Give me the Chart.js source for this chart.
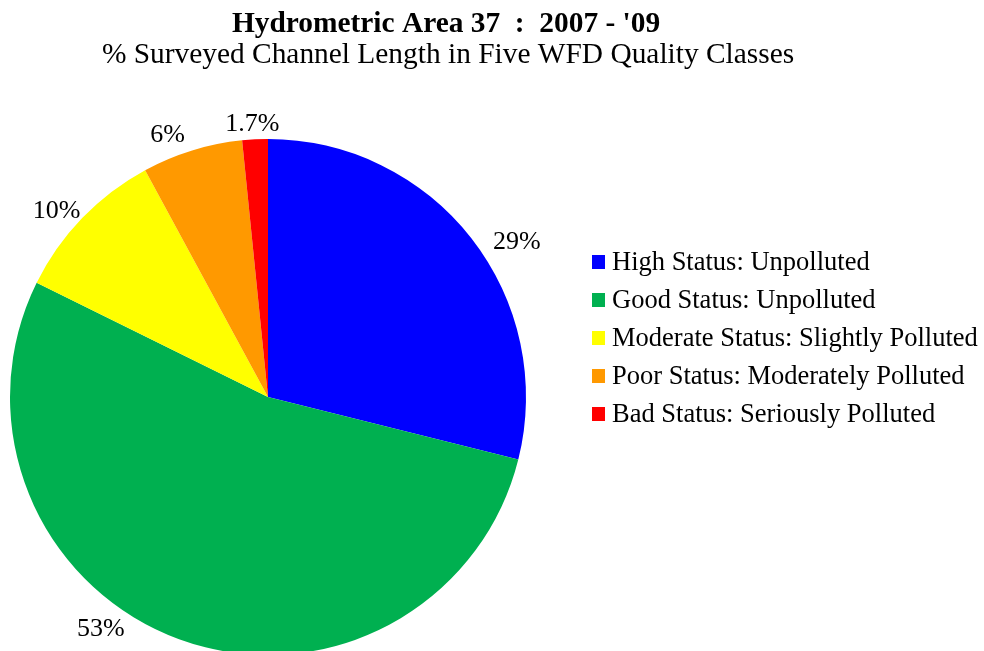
<!DOCTYPE html>
<html>
<head>
<meta charset="utf-8">
<script src="https://cdn.jsdelivr.net/npm/chart.js@4/dist/chart.umd.min.js"></script>
<style>
  html, body { margin: 0; padding: 0; background: #fff; }
  #wrap { width: 984px; height: 651px; position: relative; }
</style>
</head>
<body>
<div id="wrap"><canvas id="pieChart" width="984" height="651"></canvas></div>
<script>
// Chart data

const classNames = [
    "High Status: Unpolluted",
    "Good Status: Unpolluted",
    "Moderate Status: Slightly Polluted",
    "Poor Status: Moderately Polluted",
    "Bad Status: Seriously Polluted"
];

const channelPercent = [28.9, 53.4, 9.8, 6.3, 1.6];

const percentLabels = ["29%", "53%", "10%", "6%", "1.7%"];

const classColours = ["#0000FF", "#00B050", "#FFFF00", "#FF9900", "#FF0000"];

const titleText = "Hydrometric Area 37  :  2007 - '09";
const subtitleText = "% Surveyed Channel Length in Five WFD Quality Classes";

// nudges for the outside labels (Excel puts them a bit off the radial line)
const labelNudge = [[36, 18], [-74, -14], [-17, 8], [-21, 3], [-2, 4]];

const serif = "'Liberation Serif', 'Times New Roman', serif";


// Titles, outside labels and legend

const decorPlugin = {
    id: "decor",
    afterDraw(chart) {
        const ctx = chart.ctx;
        ctx.save();
        ctx.fillStyle = "#000";
        ctx.textAlign = "center";
        ctx.textBaseline = "alphabetic";

        ctx.font = "bold 29.4px " + serif;
        ctx.fillText(titleText, 446, 32);
        ctx.font = "29.4px " + serif;
        ctx.fillText(subtitleText, 448, 63);

        // percentage labels just outside each slice
        const arcs = chart.getDatasetMeta(0).data;
        ctx.font = "26px " + serif;
        arcs.forEach((arc, i) => {
            const p = arc.getProps(["x", "y", "startAngle", "endAngle", "outerRadius"], true);
            const mid = (p.startAngle + p.endAngle) / 2;
            const r = p.outerRadius + 12;
            const x = p.x + Math.cos(mid) * r + labelNudge[i][0];
            const y = p.y + Math.sin(mid) * r + labelNudge[i][1];
            ctx.fillText(percentLabels[i], x, y);
        });

        // legend
        ctx.textAlign = "left";
        ctx.font = "26.5px " + serif;
        classNames.forEach((name, i) => {
            const base = 270 + i * 38;
            ctx.fillStyle = classColours[i];
            ctx.fillRect(592, base - 15, 13, 14);
            ctx.fillStyle = "#000";
            ctx.fillText(name, 612, base);
        });

        ctx.restore();
    }
};


// Pie chart

new Chart(document.getElementById("pieChart"), {

    type: "pie",

    data: {
        labels: classNames,
        datasets: [{
            data: channelPercent,
            backgroundColor: classColours,
            borderWidth: 0
        }]
    },

    options: {
        responsive: false,
        animation: false,
        radius: 258,
        layout: {
            padding: { left: 10, right: 458, top: 143, bottom: 0 }
        },
        plugins: {
            legend: { display: false },
            title: { display: false },
            tooltip: { enabled: false }
        }
    },

    plugins: [decorPlugin]

});
</script>
</body>
</html>
